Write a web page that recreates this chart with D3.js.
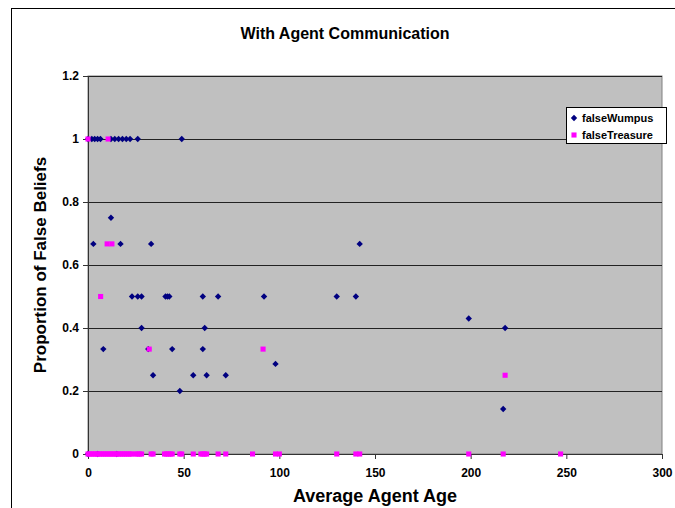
<!DOCTYPE html>
<html>
<head>
<meta charset="utf-8">
<script src="https://cdn.jsdelivr.net/npm/d3@7"></script>
<style>
  body { margin: 0; background: #fff; }
  text { font-family: "Liberation Sans", Arial, sans-serif; font-weight: bold; fill: #000; }
</style>
</head>
<body>
<div id="chart"></div>
<script>
// Data
const wumpusAge = [0, 2, 3.5, 5, 6.5, 12, 14, 16, 18, 20, 22, 26, 49,
  12,
  2.8, 17, 33, 142,
  23, 26, 28, 40.5, 41.5, 42.5, 60, 68, 92, 130, 140,
  199,
  28, 61, 218,
  8, 31.5, 44, 60,
  98,
  34, 55, 62, 72,
  48,
  217,
  0, 5, 15];
const wumpusValue = [1, 1, 1, 1, 1, 1, 1, 1, 1, 1, 1, 1, 1,
  0.75,
  0.667, 0.667, 0.667, 0.667,
  0.5, 0.5, 0.5, 0.5, 0.5, 0.5, 0.5, 0.5, 0.5, 0.5, 0.5,
  0.43,
  0.4, 0.4, 0.4,
  0.333, 0.333, 0.333, 0.333,
  0.286,
  0.25, 0.25, 0.25, 0.25,
  0.2,
  0.143,
  0, 0, 0];

const treasureAge = [0, 10.5,
  10, 12.5,
  6.6,
  32, 91.5,
  218,
  0, 1, 2, 3, 4, 5, 6, 7, 8, 9, 10, 11, 12, 13, 14, 15, 16, 17, 18, 19, 20, 21, 22, 23,
  25, 26, 27, 28, 33, 34, 40, 41, 42, 43, 44, 48, 49, 55, 59, 60, 61, 62, 68, 72, 86,
  98, 100, 130, 140, 142, 199, 217, 247];
const treasureValue = [1, 1,
  0.667, 0.667,
  0.5,
  0.333, 0.333,
  0.25,
  0, 0, 0, 0, 0, 0, 0, 0, 0, 0, 0, 0, 0, 0, 0, 0, 0, 0, 0, 0, 0, 0, 0, 0,
  0, 0, 0, 0, 0, 0, 0, 0, 0, 0, 0, 0, 0, 0, 0, 0, 0, 0, 0, 0, 0,
  0, 0, 0, 0, 0, 0, 0, 0];

const xTicks = [0, 50, 100, 150, 200, 250, 300];
const yTicks = [0, 0.2, 0.4, 0.6, 0.8, 1, 1.2];

const W = 675, H = 508;
const plot = { left: 88, right: 662, top: 76, bottom: 454 };

const svg = d3.select('#chart').append('svg')
  .attr('width', W).attr('height', H);

// outer chart border
svg.append('rect')
  .attr('x', 11.5).attr('y', 8.5)
  .attr('width', 700).attr('height', 600)
  .attr('fill', '#fff').attr('stroke', '#000');

const x = d3.scaleLinear().domain([0, 300]).range([plot.left, plot.right]);
const y = d3.scaleLinear().domain([0, 1.2]).range([plot.bottom, plot.top]);

// plot area
svg.append('rect')
  .attr('x', plot.left).attr('y', plot.top)
  .attr('width', plot.right - plot.left).attr('height', plot.bottom - plot.top)
  .attr('fill', '#c0c0c0').attr('stroke', '#808080');

// gridlines
svg.append('g')
  .attr('transform', `translate(${plot.left},0)`)
  .call(d3.axisLeft(y).tickValues(yTicks.filter(d => d > 0)).tickSize(-(plot.right - plot.left)).tickFormat(''))
  .call(g => g.select('.domain').remove())
  .call(g => g.selectAll('line').attr('stroke', '#222'));

// y axis
svg.append('g')
  .attr('transform', `translate(${plot.left},0)`)
  .call(d3.axisLeft(y).tickValues(yTicks).tickSize(5).tickPadding(4).tickFormat(d3.format('~g')))
  .call(g => g.select('.domain').attr('stroke', '#333'))
  .call(g => g.selectAll('line').attr('stroke', '#333'))
  .call(g => g.selectAll('text').style('font-size', '12px').style('font-family', '"Liberation Sans", Arial, sans-serif').style('font-weight', 'bold'));

// x axis
svg.append('g')
  .attr('transform', `translate(0,${plot.bottom})`)
  .call(d3.axisBottom(x).tickValues(xTicks).tickSize(5).tickPadding(9))
  .call(g => g.select('.domain').attr('stroke', '#333'))
  .call(g => g.selectAll('line').attr('stroke', '#333'))
  .call(g => g.selectAll('text').style('font-size', '12px').style('font-family', '"Liberation Sans", Arial, sans-serif').style('font-weight', 'bold'));

const diamond = d3.symbol(d3.symbolDiamond2, 26);
const square = d3.symbol(d3.symbolSquare, 26);

// Excel draws series in order: Wumpus then Treasure on top
svg.append('g').selectAll('path')
  .data(wumpusAge.map((a, i) => [a, wumpusValue[i]]))
  .join('path')
  .attr('d', diamond)
  .attr('transform', d => `translate(${x(d[0])},${y(d[1])})`)
  .attr('fill', '#000080');

svg.append('g').selectAll('path')
  .data(treasureAge.map((a, i) => [a, treasureValue[i]]))
  .join('path')
  .attr('d', square)
  .attr('transform', d => `translate(${x(d[0])},${y(d[1])})`)
  .attr('fill', '#ff00ff');

// legend
const legend = svg.append('g');
legend.append('rect')
  .attr('x', 566.5).attr('y', 107.5).attr('width', 100).attr('height', 36)
  .attr('fill', '#fff').attr('stroke', '#000');
const items = [
  { name: 'falseWumpus', sym: diamond, color: '#000080' },
  { name: 'falseTreasure', sym: square, color: '#ff00ff' }
];
items.forEach((it, i) => {
  const cy = 118 + i * 17;
  legend.append('path').attr('d', it.sym).attr('transform', `translate(574,${cy})`).attr('fill', it.color);
  legend.append('text').attr('x', 582).attr('y', cy).attr('dy', '0.35em')
    .style('font-size', '11px').text(it.name);
});

// titles
svg.append('text')
  .attr('x', 345).attr('y', 39)
  .attr('text-anchor', 'middle')
  .style('font-size', '16px')
  .text('With Agent Communication');

svg.append('text')
  .attr('x', 375).attr('y', 502)
  .attr('text-anchor', 'middle')
  .style('font-size', '18px')
  .text('Average Agent Age');

svg.append('text')
  .attr('transform', `translate(46,265) rotate(-90)`)
  .attr('text-anchor', 'middle')
  .style('font-size', '17px')
  .text('Proportion of False Beliefs');
</script>
</body>
</html>
